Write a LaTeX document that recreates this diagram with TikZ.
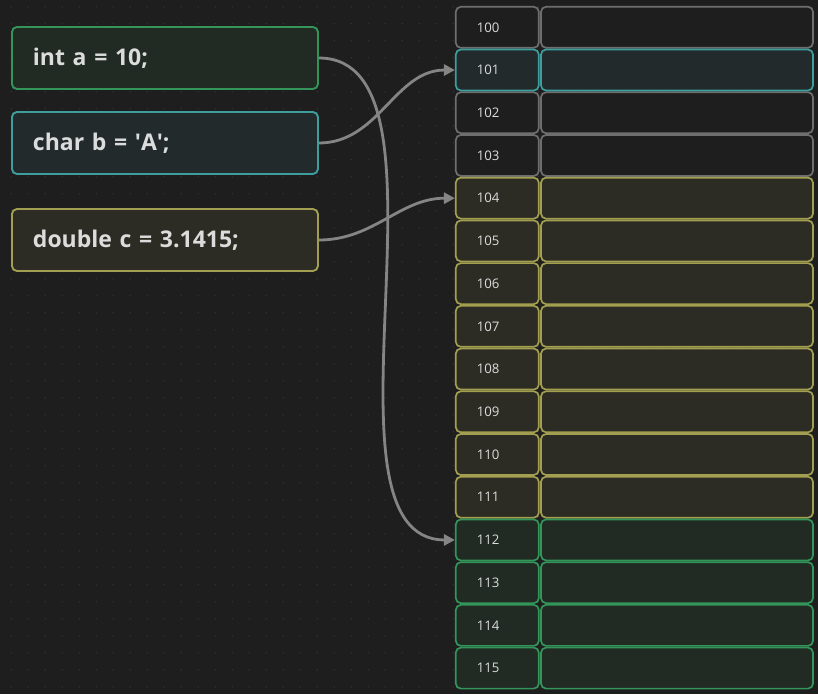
\documentclass[tikz,border=0pt]{standalone}
\usepackage{fontspec}
\setmainfont{Open Sans}
\usetikzlibrary{arrows.meta}

\definecolor{canvasbg}{HTML}{1E1E1E}
\definecolor{griddot}{HTML}{303030}
\definecolor{greyline}{HTML}{6E6E6E}
\definecolor{greyfill}{HTML}{1E1E1E}
\definecolor{tealline}{HTML}{3E9E9E}
\definecolor{tealfill}{HTML}{222A2C}
\definecolor{oliveline}{HTML}{A29F50}
\definecolor{olivefill}{HTML}{2D2C24}
\definecolor{greenline}{HTML}{33955A}
\definecolor{greenfill}{HTML}{212A23}
\definecolor{linkgrey}{HTML}{858585}
\definecolor{textgrey}{HTML}{DCDCDC}

\begin{document}
\begin{tikzpicture}[x=1pt, y=-1pt,
    varbox/.style={draw, rounded corners=5pt, line width=1.9pt, minimum height=62pt,
                   text width=264pt, inner xsep=21pt, align=left, anchor=west,
                   text=textgrey, font=\fontsize{23}{27}\selectfont\bfseries},
    addr/.style={draw, rounded corners=5pt, line width=1.7pt, minimum height=41pt,
                 text width=41pt, inner xsep=21pt, align=left, text=textgrey,
                 font=\fontsize{13.2}{16}\selectfont},
    val/.style={draw, rounded corners=5pt, line width=1.7pt, minimum height=41pt,
                minimum width=272pt, inner sep=0pt},
    cellgrey/.style={draw=greyline, fill=greyfill},
    celltealc/.style={draw=tealline, fill=tealfill},
    cellolive/.style={draw=oliveline, fill=olivefill},
    cellgreen/.style={draw=greenline, fill=greenfill},
    link/.style={draw=linkgrey, line width=2.8pt, -{Triangle[length=11pt, width=11pt]}}]

    \useasboundingbox (0,0) rectangle (818,694);
    \fill[canvasbg] (0,0) rectangle (818,694);
    \foreach \i in {0,...,47}
        \foreach \j in {0,...,40}
            \fill[griddot] ({11.3+17*\i}, {6.7+17*\j}) circle (0.9pt);

    % variables
    \node[varbox, draw=greenline, fill=greenfill] (vara) at (11,58)  {int a = 10;};
    \node[varbox, draw=tealline,  fill=tealfill]  (varb) at (11,143) {char b = \textquotesingle A\textquotesingle;};
    \node[varbox, draw=oliveline, fill=olivefill] (varc) at (11,240) {double c = 3.1415;};

    % memory
    \foreach \n in {100,102,103} {
        \node[addr, cellgrey] (cell\n) at (497.3, {27.3+42.72*(\n-100)}) {\n};
        \node[val,  cellgrey] (val\n)  at (677,   {27.3+42.72*(\n-100)}) {};
    }
    \foreach \n in {101} {
        \node[addr, celltealc] (cell\n) at (497.3, {27.3+42.72*(\n-100)}) {\n};
        \node[val,  celltealc] (val\n)  at (677,   {27.3+42.72*(\n-100)}) {};
    }
    \foreach \n in {104,...,111} {
        \node[addr, cellolive] (cell\n) at (497.3, {27.3+42.72*(\n-100)}) {\n};
        \node[val,  cellolive] (val\n)  at (677,   {27.3+42.72*(\n-100)}) {};
    }
    \foreach \n in {112,...,115} {
        \node[addr, cellgreen] (cell\n) at (497.3, {27.3+42.72*(\n-100)}) {\n};
        \node[val,  cellgreen] (val\n)  at (677,   {27.3+42.72*(\n-100)}) {};
    }

    \draw[link] (vara.east) .. controls +(150,0) and +(-150,0) .. (cell112.west);
    \draw[link] (varb.east) .. controls +(60,0) and +(-60,0) .. (cell101.west);
    \draw[link] (varc.east) .. controls +(55,0) and +(-55,0) .. (cell104.west);
\end{tikzpicture}
\end{document}
